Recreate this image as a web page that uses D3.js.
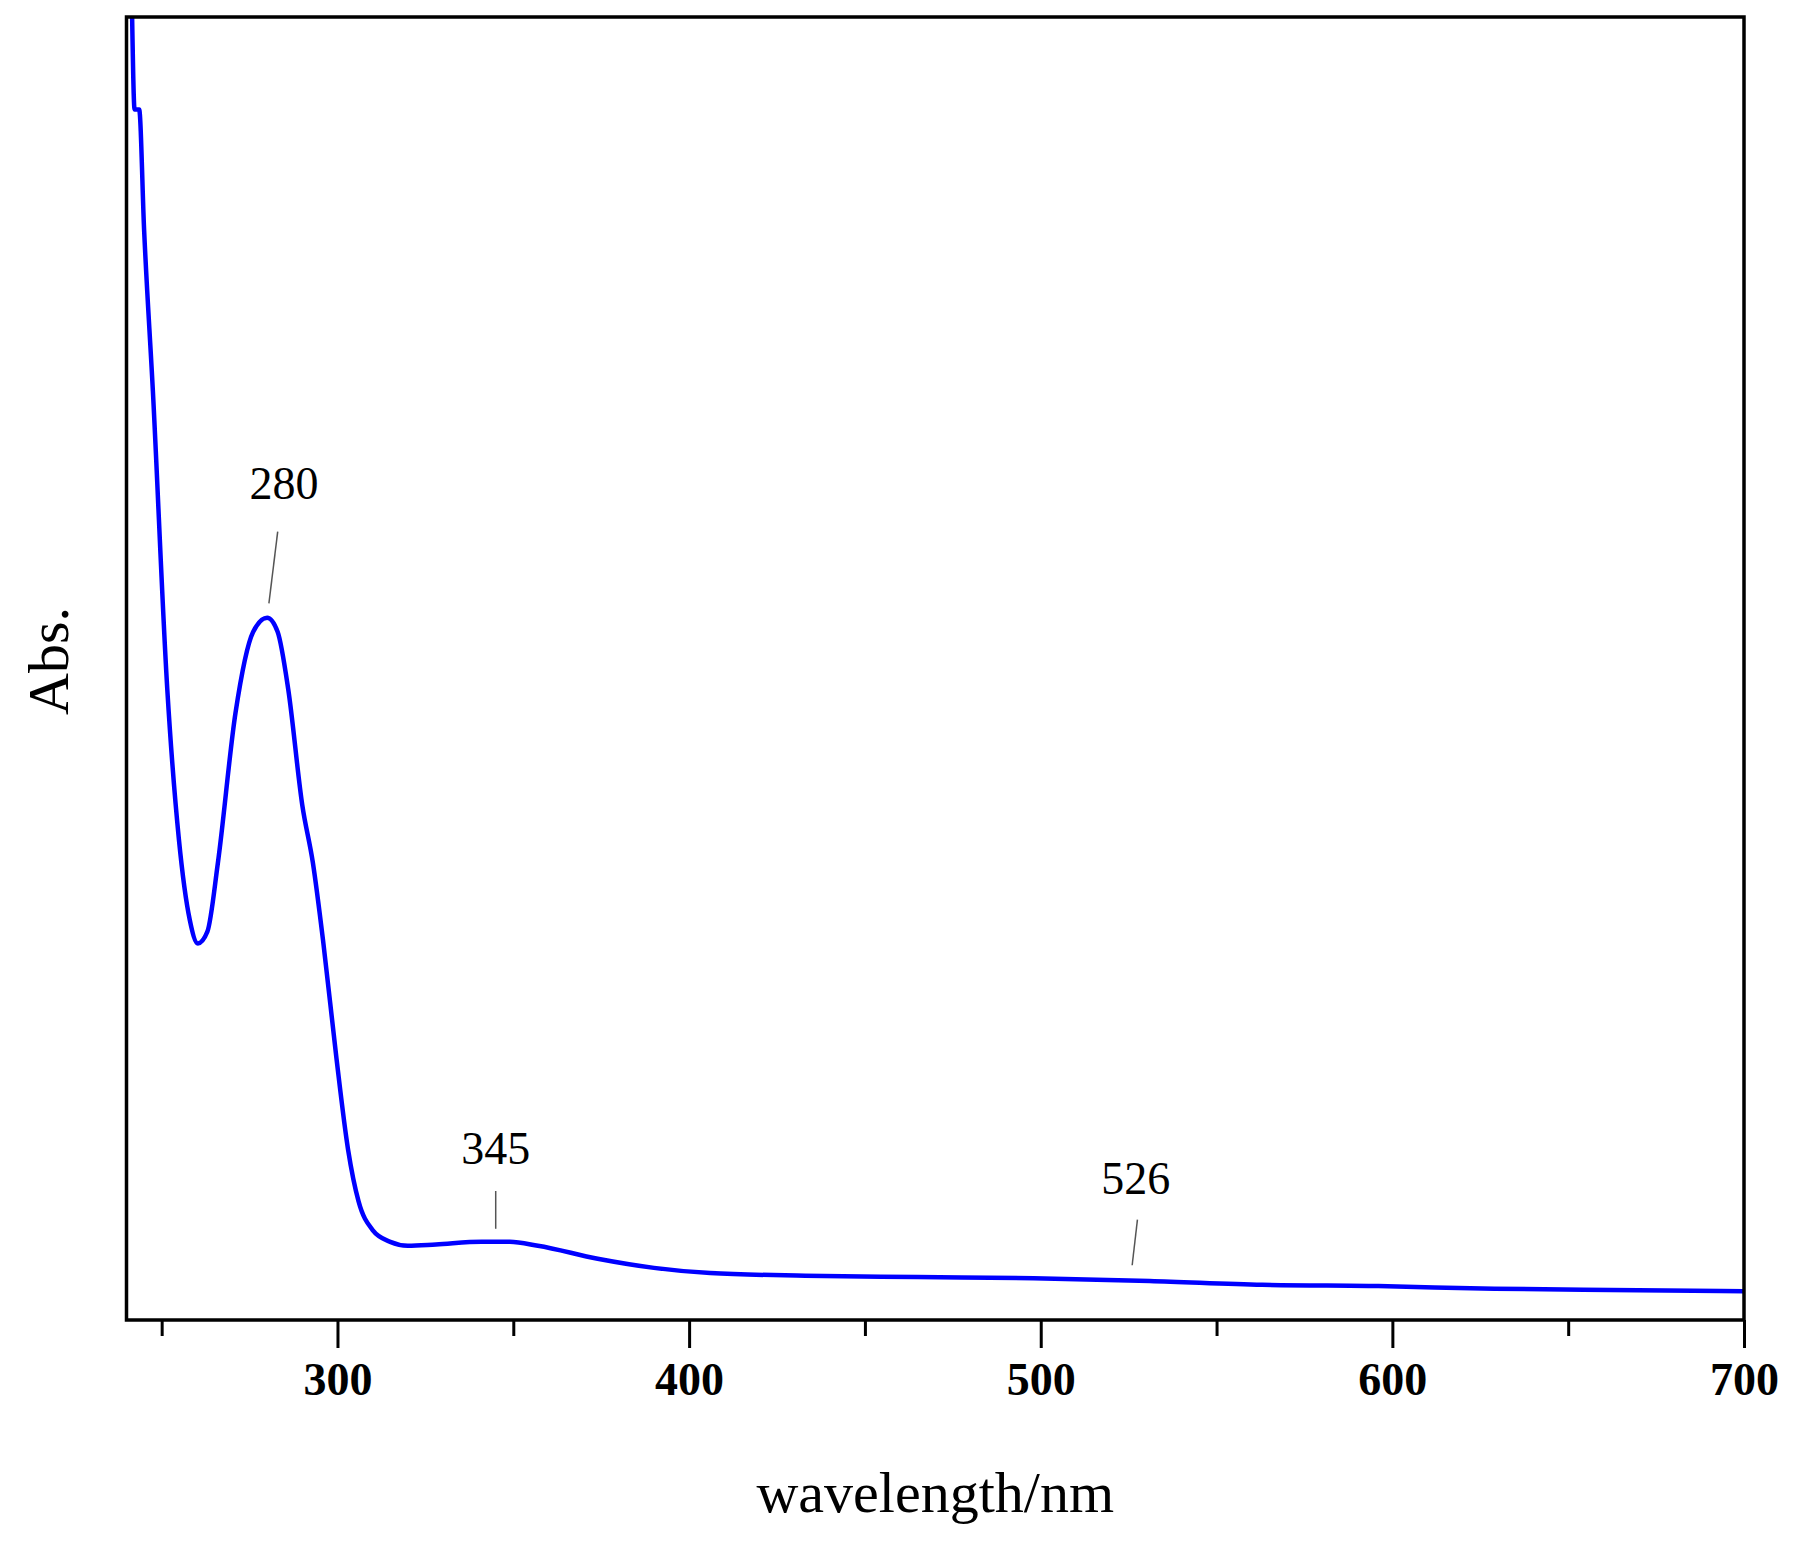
<!DOCTYPE html>
<html><head><meta charset="utf-8">
<script src="https://cdn.jsdelivr.net/npm/d3@7"></script>
<style>body{margin:0;background:#fff}</style></head>
<body><svg id="c" width="1803" height="1544"></svg>
<script>
const wavelength=[241.6,242.3,243.6,245,247.5,251.6,254.9,258,260.3,263,266,271,276,280,283,286,290,293,296,299.7,303,306,310,315,320,328,341,349,357,374,390,406,433,465,498,531,563,596,629,662,700];
const absorbance=[1.0,0.929,0.929,0.837,0.713,0.484,0.369,0.307,0.289,0.298,0.351,0.466,0.528,0.539,0.528,0.484,0.395,0.351,0.289,0.201,0.131,0.091,0.069,0.060,0.057,0.058,0.060,0.060,0.057,0.047,0.040,0.036,0.034,0.033,0.032,0.030,0.027,0.026,0.024,0.023,0.022];
const majorTicks=[300,400,500,600,700];
const minorTicks=[250,350,450,550,650];
const peaks=[{label:"280",tx:284.8,ty:0.63,x1:283,y1:0.605,x2:280.5,y2:0.55},
             {label:"345",tx:345,ty:0.12,x1:345,y1:0.099,x2:345,y2:0.07},
             {label:"526",tx:527,ty:0.097,x1:527.5,y1:0.077,x2:526,y2:0.042}];
const L=126.5,R=1744,T=17,B=1320;
const svg=d3.select("#c");
const x=d3.scaleLinear().domain([240,700]).range([L,R]);
const y=d3.scaleLinear().domain([0,1]).range([B,T]);
svg.append("g").attr("transform",`translate(0,${B})`)
  .call(d3.axisBottom(x).tickValues(majorTicks).tickSize(28).tickPadding(14).tickFormat(d3.format("d")))
  .call(g=>{g.select(".domain").remove();g.selectAll("line").attr("stroke","#000").attr("stroke-width",3);
    g.selectAll("text").attr("font-family","Liberation Serif").attr("font-weight","bold").attr("font-size",46).attr("fill","#000");});
svg.append("g").attr("transform",`translate(0,${B})`)
  .call(d3.axisBottom(x).tickValues(minorTicks).tickSize(16).tickFormat(""))
  .call(g=>{g.select(".domain").remove();g.selectAll("line").attr("stroke","#000").attr("stroke-width",3);});
svg.append("defs").append("clipPath").attr("id","cp").append("rect").attr("x",L).attr("y",T).attr("width",R-L).attr("height",B-T);
svg.append("path").datum(wavelength.map((w,i)=>[w,absorbance[i]]))
  .attr("clip-path","url(#cp)")
  .attr("d",d3.line().x(d=>x(d[0])).y(d=>y(d[1])).curve(d3.curveMonotoneX))
  .attr("fill","none").attr("stroke","#0000ff").attr("stroke-width",4.5);
svg.append("rect").attr("x",L).attr("y",T).attr("width",R-L).attr("height",B-T).attr("fill","none").attr("stroke","#000").attr("stroke-width",3.5);
peaks.forEach(p=>{
  svg.append("text").attr("x",x(p.tx)).attr("y",y(p.ty)).attr("text-anchor","middle")
    .attr("font-family","Liberation Serif").attr("font-size",46).text(p.label);
  svg.append("line").attr("x1",x(p.x1)).attr("y1",y(p.y1)).attr("x2",x(p.x2)).attr("y2",y(p.y2)).attr("stroke","#555").attr("stroke-width",1.5);
});
svg.append("text").attr("x",(L+R)/2).attr("y",1512).attr("text-anchor","middle")
  .attr("font-family","Liberation Serif").attr("font-size",58).text("wavelength/nm");
svg.append("text").attr("transform",`translate(68,661) rotate(-90)`).attr("text-anchor","middle")
  .attr("font-family","Liberation Serif").attr("font-size",58).text("Abs.");
</script></body></html>
